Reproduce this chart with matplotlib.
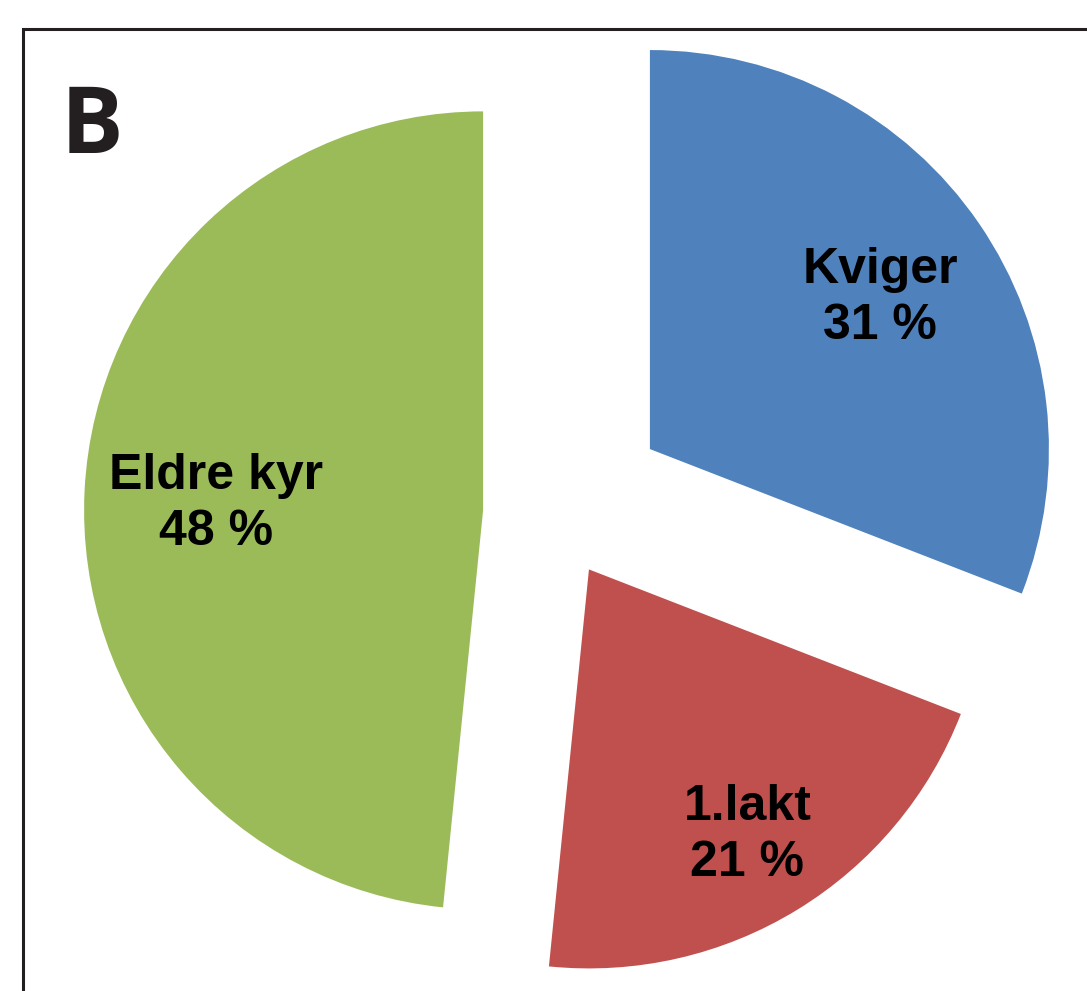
import matplotlib.pyplot as plt
import matplotlib.patches as mpatches
import numpy as np

# slice data (clockwise from 12 o'clock)
categories = ["Kviger", "1.lakt", "Eldre kyr"]
shares = [30.9, 20.7, 48.4]
colors = ["#4F81BD", "#C0504D", "#9BBB59"]
explode = [115, 65, 72]          # pixel offsets, each slice pulled out differently
label_dist = [0.70, 0.76, 0.67]  # label position as fraction of radius

W, H = 1087, 991
fig = plt.figure(figsize=(W / 100, H / 100), dpi=100)
ax = fig.add_axes([0, 0, 1, 1])

radius = 399
center = (555, H - 514)
wedges, _ = ax.pie(shares, colors=colors, explode=explode, startangle=90,
                   counterclock=False, radius=radius, center=center,
                   wedgeprops=dict(linewidth=0))
ax.set_xlim(0, W)
ax.set_ylim(0, H)
ax.set_aspect("equal")
ax.axis("off")

for w, name, val, f in zip(wedges, categories, shares, label_dist):
    mid = np.deg2rad((w.theta1 + w.theta2) / 2)
    x = w.center[0] + f * w.r * np.cos(mid)
    y = w.center[1] + f * w.r * np.sin(mid)
    ax.text(x, y - 7, f"{name}\n{round(val)} %", ha="center", va="center",
            fontsize=36, fontweight="bold", family="Liberation Sans",
            linespacing=1.27, color="black")

# panel letter
ax.text(61, H - 153, "B", fontsize=67, family="Open Sans", fontweight="bold",
        color="#231f20", ha="left", va="baseline")

# frame, cut off at right and bottom
frame = mpatches.Rectangle((23, -50), W + 50, H - 29 + 50, fill=False,
                           edgecolor="#231f20", linewidth=2.2, clip_on=False)
ax.add_patch(frame)

fig.savefig("out.png", dpi=100)
